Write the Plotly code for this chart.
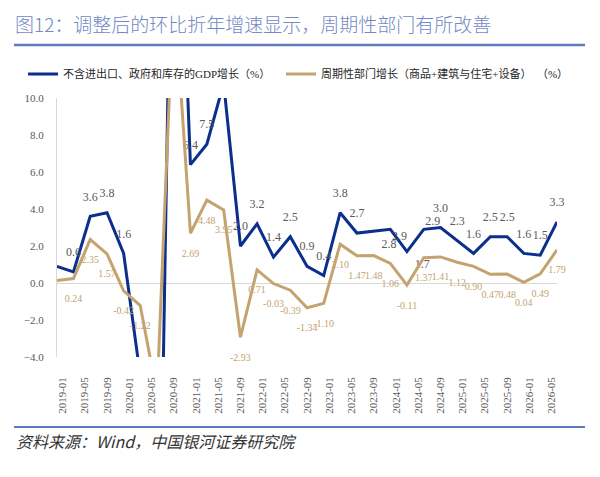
import pandas as pd
import plotly.graph_objs as go

months = ['2018-12', '2019-03', '2019-06', '2019-09', '2019-12', '2020-03', '2020-06',
          '2020-09', '2020-12', '2021-03', '2021-06', '2021-09', '2021-12', '2022-03',
          '2022-06', '2022-09', '2022-12', '2023-03', '2023-06', '2023-09', '2023-12',
          '2024-03', '2024-06', '2024-09', '2024-12', '2025-03', '2025-06', '2025-09',
          '2025-12', '2026-03', '2026-06']

# 不含进出口、政府和库存的GDP增长（%）
gdp_core = [0.9, 0.6, 3.6, 3.8, 1.6, -5.0, -24.5, 29.3, 6.4, 7.5, 10.8, 2.0, 3.2, 1.4,
            2.5, 0.9, 0.4, 3.8, 2.7, 2.8, 2.9, 1.7, 2.9, 3.0, 2.3, 1.6, 2.5, 2.5,
            1.6, 1.5, 3.3]

# 周期性部门增长（商品+建筑与住宅+设备）（%）
cyclical = [0.13, 0.24, 2.35, 1.57, -0.42, -1.22, -6.0, 16.0, 2.69, 4.48, 3.95, -2.93,
            0.71, -0.03, -0.39, -1.34, -1.10, 2.10, 1.47, 1.48, 1.06, -0.11, 1.37, 1.41,
            1.12, 0.90, 0.47, 0.48, 0.04, 0.49, 1.79]

name_core = '不含进出口、政府和库存的GDP增长（%）'
name_cyc = '周期性部门增长（商品+建筑与住宅+设备）  （%）'
title_text = '图12：调整后的环比折年增速显示，周期性部门有所改善'
source_text = '资料来源：Wind，中国银河证券研究院'

dates = pd.to_datetime(months)

# labels that fall outside the visible range (or the first point) are left out
hide_core = {0, 5, 6, 7, 10}
hide_cyc = {0, 6, 7}
core_text = ['' if i in hide_core else '%.1f' % v for i, v in enumerate(gdp_core)]
cyc_text = ['' if i in hide_cyc else '%.2f' % v for i, v in enumerate(cyclical)]

# label placement: marker size (transparent) sets the gap between point and label
n = len(months)
core_pos = ['top center'] * n
core_size = [19] * n
for i, pos, size in [(19, 'bottom right', 11), (20, 'bottom right', 1),
                     (21, 'bottom right', 11), (22, 'top right', 1)]:
    core_pos[i] = pos
    core_size[i] = size
cyc_pos = ['bottom center'] * n

SERIF = 'Liberation Serif, Times New Roman, Noto Sans CJK SC'
BLUE = '#0c2f8e'
TAN = '#c4a36f'
RULE = '#5d7bbd'
CLEAR = 'rgba(0,0,0,0)'

# the page body has an 8px margin, so the figure is 8px smaller and shifted
OFF = 8
W, H = 600 - OFF, 477 - OFF
PL, PR, PT, PB = 57, 557, 98, 357   # plot area in the reference picture


def px(p):
    return (p - PL) / (PR - PL)


def py(p):
    return (PB - p) / (PB - PT)


trace_core = go.Scatter(
    x=dates, y=gdp_core, name=name_core,
    mode='lines+markers+text',
    line=dict(color=BLUE, width=3),
    marker=dict(size=core_size, color=CLEAR, line=dict(width=0)),
    text=core_text, textposition=core_pos,
    textfont=dict(family=SERIF, size=12, color='#595959'),
    cliponaxis=False,
    legend='legend',
)
trace_cyc = go.Scatter(
    x=dates, y=cyclical, name=name_cyc,
    mode='lines+markers+text',
    line=dict(color=TAN, width=3),
    marker=dict(size=24, color=CLEAR, line=dict(width=0)),
    text=cyc_text, textposition=cyc_pos,
    textfont=dict(family=SERIF, size=10, color=TAN),
    cliponaxis=False,
    legend='legend2',
)

legend_style = dict(orientation='h', yanchor='middle', y=py(74), xanchor='left',
                    font=dict(family=SERIF, size=11, color='#262626'),
                    bgcolor=CLEAR, itemwidth=30)

layout = go.Layout(
    width=W, height=H,
    paper_bgcolor='white', plot_bgcolor='white',
    margin=dict(l=PL - OFF, r=W - (PR - OFF), t=PT - OFF, b=H - (PB - OFF)),
    title=dict(text=title_text, xref='container', x=(15 - OFF) / W, xanchor='left',
               y=1 - (25 - OFF) / H, yanchor='middle',
               font=dict(family='Noto Sans CJK SC', size=19, color='#7189c4',
                         weight=300)),
    legend=dict(legend_style, x=px(23)),
    legend2=dict(legend_style, x=px(281)),
    xaxis=dict(
        type='date',
        range=['2018-12-01', '2026-06-01'],
        tick0='2019-01-01', dtick='M4', tickformat='%Y-%m',
        tickangle=-90,
        tickfont=dict(family=SERIF, size=11, color='#595959'),
        showgrid=False, zeroline=False, showline=False, ticks='',
        ticklabelstandoff=17,
    ),
    yaxis=dict(
        range=[-4, 10], dtick=2, tickformat='.1f',
        tickfont=dict(family=SERIF, size=11, color='#595959'),
        showgrid=False,
        zeroline=True, zerolinecolor='#d9d9d9', zerolinewidth=1,
        showline=True, linecolor='#d9d9d9', linewidth=1,
        ticks='', ticklabelstandoff=10,
    ),
    shapes=[
        dict(type='line', xref='paper', yref='paper',
             x0=px(14), x1=px(585), y0=py(45), y1=py(45),
             line=dict(color=RULE, width=2.5)),
        dict(type='line', xref='paper', yref='paper',
             x0=px(14), x1=px(585), y0=py(427), y1=py(427),
             line=dict(color=RULE, width=2)),
    ],
    annotations=[
        dict(text=source_text, xref='paper', yref='paper',
             x=px(14), y=py(441),
             xanchor='left', yanchor='middle', showarrow=False,
             font=dict(family='Noto Sans CJK SC', size=16, color='#333333',
                       style='italic')),
    ],
    showlegend=True,
)

fig = go.Figure(data=[trace_core, trace_cyc], layout=layout)
fig.write_html('out.html')
